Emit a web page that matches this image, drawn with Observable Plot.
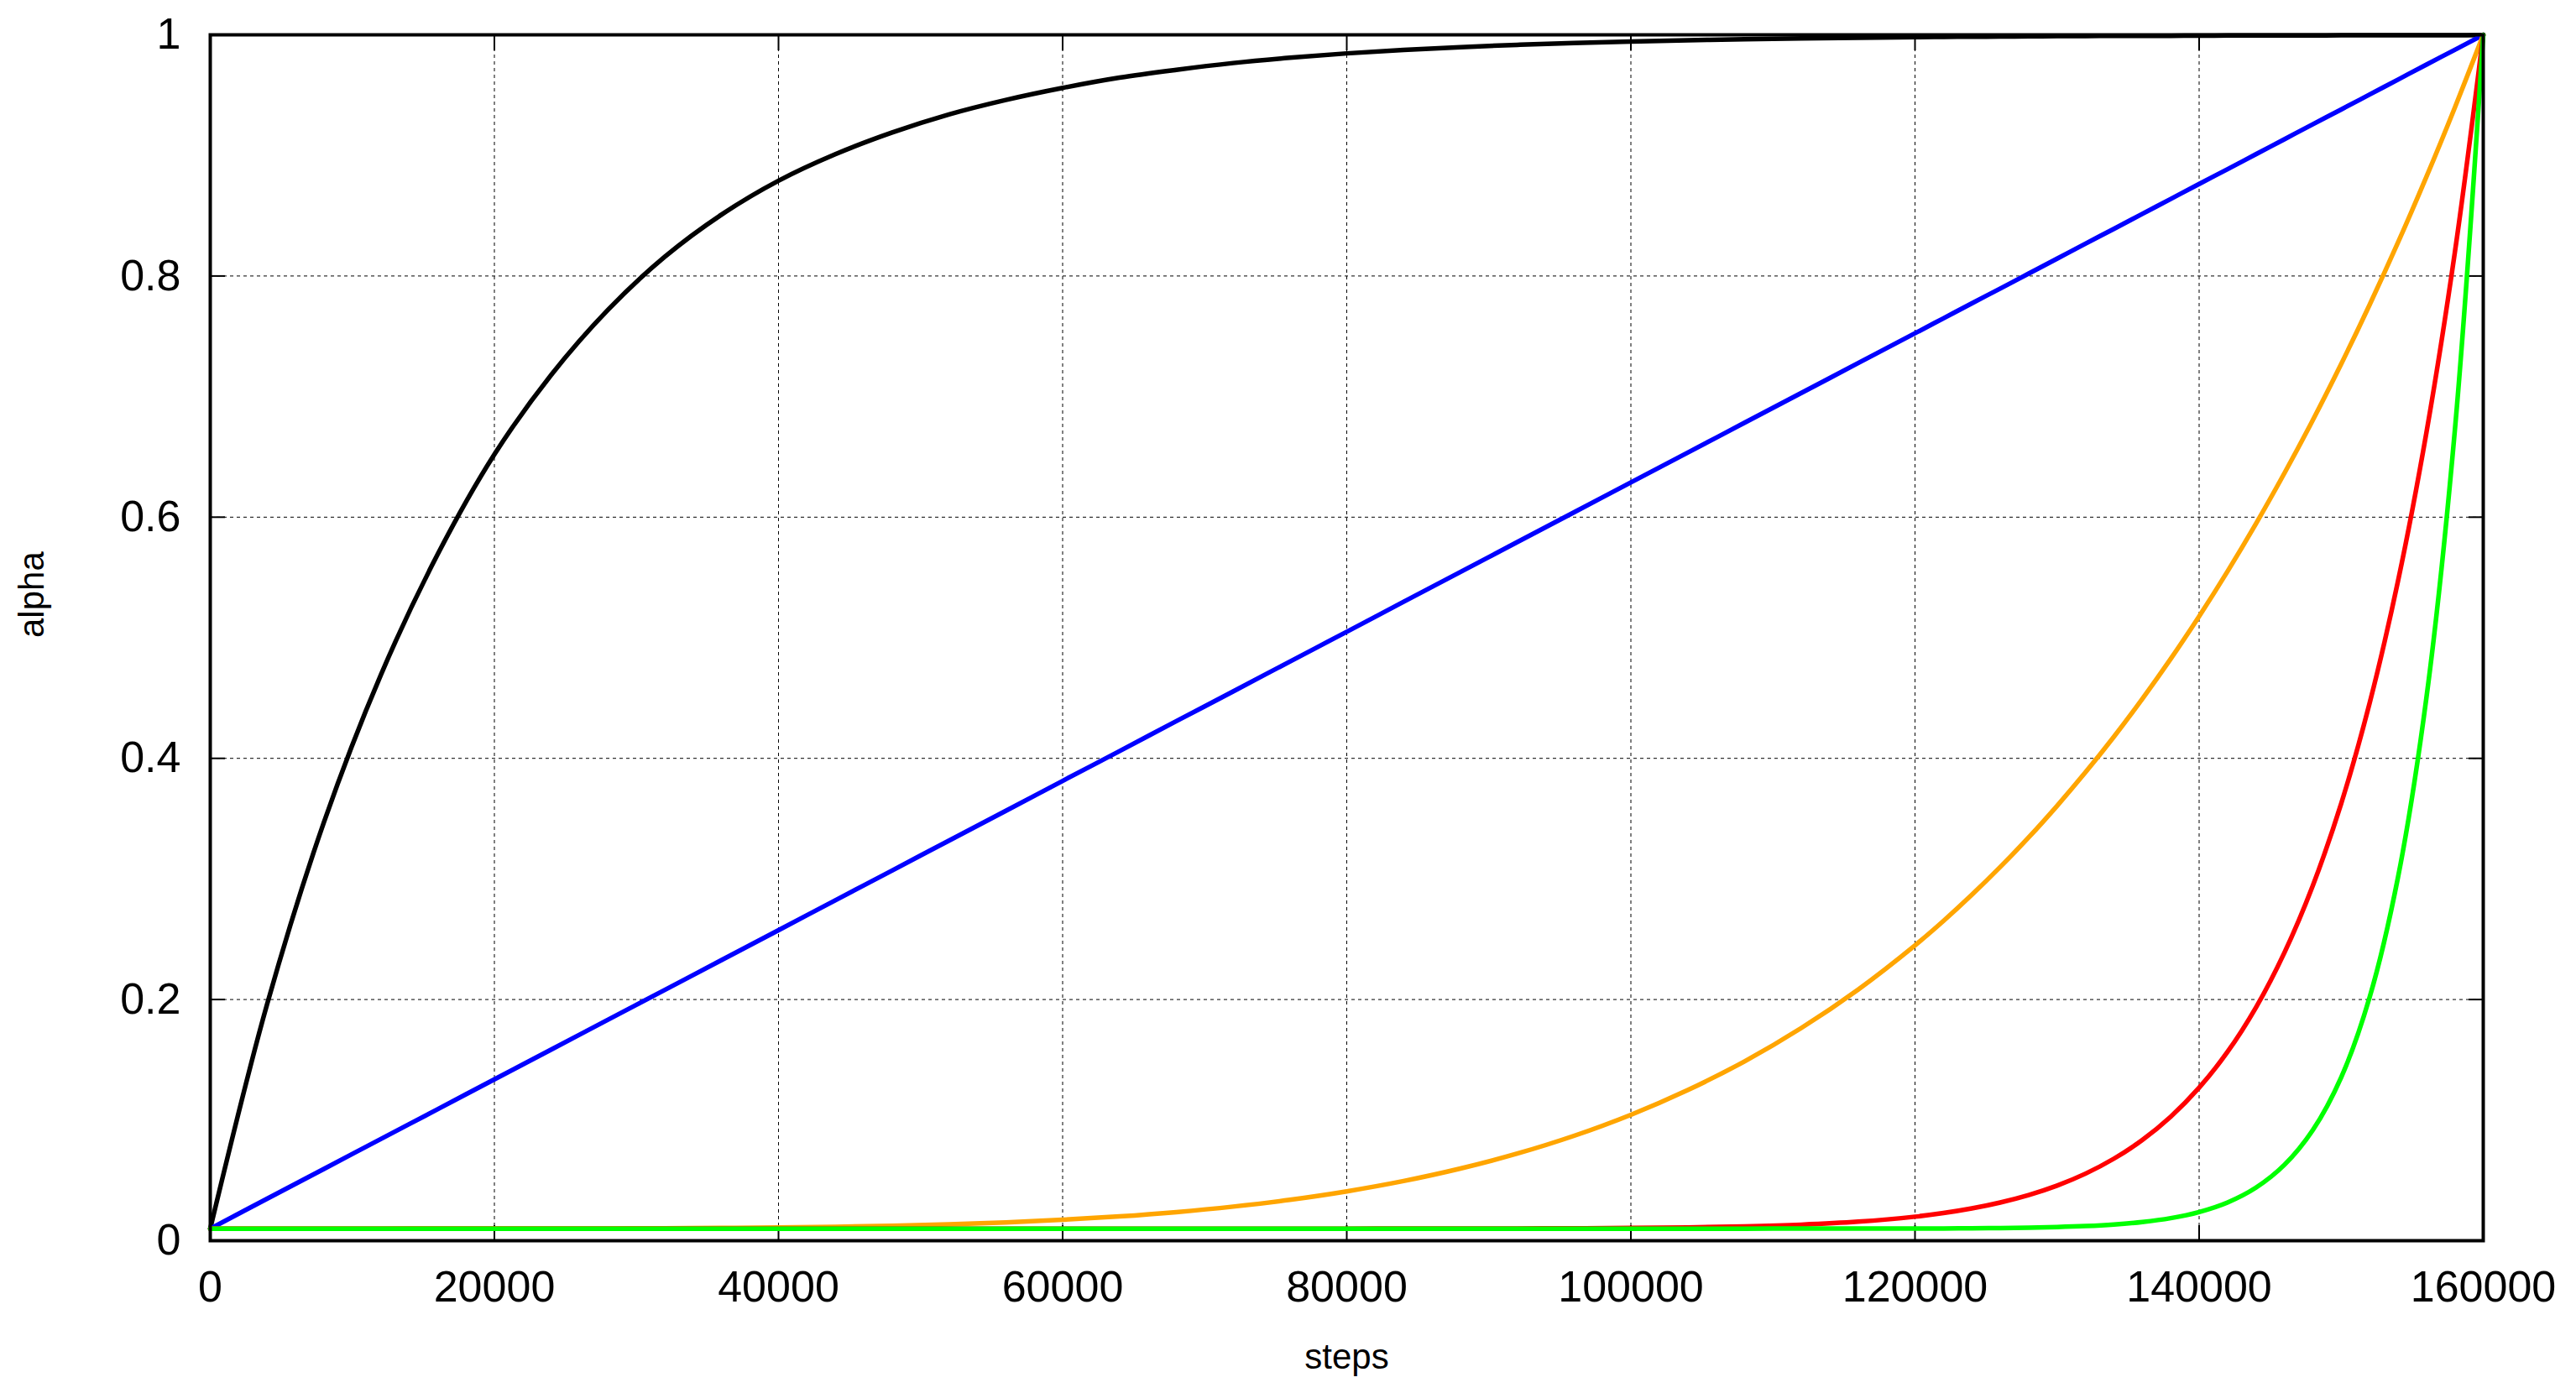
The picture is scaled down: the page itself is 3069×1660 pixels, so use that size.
<!DOCTYPE html>
<html>
<head>
<meta charset="utf-8">
<script src="https://cdn.jsdelivr.net/npm/d3@7"></script>
<script src="https://cdn.jsdelivr.net/npm/@observablehq/plot@0.6"></script>
<style>
  html, body { margin: 0; padding: 0; background: #fff; }
  #chart svg { display: block; }
</style>
</head>
<body>
<div id="chart"></div>
<script>
// ---- Data ----
const steps = [
  0, 4000, 8000, 12000, 16000, 20000, 24000, 28000, 32000, 36000,
  40000, 44000, 48000, 52000, 56000, 60000, 64000, 68000, 72000, 76000,
  80000, 84000, 88000, 92000, 96000, 100000, 104000, 108000, 112000, 116000,
  120000, 122000, 124000, 126000, 128000, 130000, 132000, 134000, 136000, 138000,
  140000, 142000, 144000, 146000, 148000, 150000, 152000, 154000, 156000, 158000,
  160000
];

const blackAlpha = [
  0.01, 0.196, 0.347, 0.469, 0.569, 0.652, 0.718, 0.772, 0.816, 0.851,
  0.879, 0.901, 0.919, 0.934, 0.946, 0.956, 0.9645, 0.971, 0.9766, 0.981,
  0.9846, 0.9875, 0.9898, 0.9917, 0.9933, 0.9945, 0.9955, 0.9964, 0.9971, 0.9976,
  0.998, 0.9983, 0.9984, 0.9986, 0.9987, 0.9989, 0.999, 0.9991, 0.9992, 0.9992,
  0.9993, 0.9994, 0.9994, 0.9995, 0.9995, 0.9996, 0.9996, 0.9996, 0.9997, 0.9997,
  0.9998
];

const blueAlpha = [
  0.01, 0.0348, 0.0595, 0.0843, 0.109, 0.1338, 0.1585, 0.1833, 0.208, 0.2328,
  0.2575, 0.2823, 0.307, 0.3318, 0.3565, 0.3813, 0.406, 0.4308, 0.4555, 0.4803,
  0.505, 0.5298, 0.5545, 0.5793, 0.604, 0.6288, 0.6535, 0.6783, 0.703, 0.7278,
  0.7525, 0.7649, 0.7773, 0.7896, 0.802, 0.8144, 0.8268, 0.8391, 0.8515, 0.8639,
  0.8763, 0.8886, 0.901, 0.9134, 0.9258, 0.9381, 0.9505, 0.9629, 0.9753, 0.9876,
  1.0
];

const orangeAlpha = [
  0.01, 0.01, 0.01, 0.01, 0.01001, 0.01003, 0.01008, 0.01016, 0.01032, 0.01057,
  0.01097, 0.01156, 0.01241, 0.01359, 0.0152, 0.01734, 0.02014, 0.02373, 0.02827, 0.03394,
  0.04094, 0.04948, 0.05983, 0.07222, 0.08698, 0.10442, 0.1249, 0.1487, 0.1764, 0.2083,
  0.2449, 0.2651, 0.2868, 0.3099, 0.3344, 0.3606, 0.3884, 0.4179, 0.4493, 0.4825,
  0.5178, 0.5551, 0.5946, 0.6364, 0.6804, 0.727, 0.7761, 0.8278, 0.8823, 0.9397,
  1.0
];

const redAlpha = [
  0.01, 0.01, 0.01, 0.01, 0.01, 0.01, 0.01, 0.01, 0.01, 0.01,
  0.01, 0.01, 0.01, 0.01, 0.01, 0.01, 0.01, 0.01, 0.01, 0.01,
  0.01, 0.01003, 0.01007, 0.01014, 0.01028, 0.01054, 0.0110, 0.01184, 0.01329, 0.01577,
  0.01992, 0.02292, 0.02677, 0.03167, 0.03787, 0.04571, 0.05559, 0.06802, 0.08351, 0.10285,
  0.1269, 0.1566, 0.1934, 0.2388, 0.2944, 0.3625, 0.4457, 0.5471, 0.6702, 0.8195,
  1.0
];

const greenAlpha = [
  0.01, 0.01, 0.01, 0.01, 0.01, 0.01, 0.01, 0.01, 0.01, 0.01,
  0.01, 0.01, 0.01, 0.01, 0.01, 0.01, 0.01, 0.01, 0.01, 0.01,
  0.01, 0.01, 0.01, 0.01, 0.01, 0.01, 0.01, 0.01, 0.01001, 0.01003,
  0.0101, 0.01017, 0.01028, 0.01047, 0.01078, 0.01129, 0.0121, 0.0134, 0.01546, 0.01871,
  0.02381, 0.03171, 0.044, 0.06288, 0.09171, 0.1355, 0.2018, 0.3014, 0.4503, 0.6719,
  1.0
];

const seriesNames = ["black", "blue", "orange", "red", "green"];
const seriesColors = ["#000000", "#0000ff", "#ffa500", "#ff0000", "#00ff00"];
const seriesValues = [blackAlpha, blueAlpha, orangeAlpha, redAlpha, greenAlpha];

const xTicks = [0, 20000, 40000, 60000, 80000, 100000, 120000, 140000, 160000];
const yTicks = [0, 0.2, 0.4, 0.6, 0.8, 1];
const xLabel = "steps";
const yLabel = "alpha";

// ---- Build tables ----
const tables = seriesValues.map(vals => steps.map((s, i) => ({step: s, alpha: vals[i]})));

const font = "'Liberation Sans', Arial, Helvetica, sans-serif";

const gridStyle = {stroke: "#000", strokeOpacity: 1, strokeWidth: 1, strokeDasharray: "4,4"};

const chart = Plot.plot({
  width: 3069,
  height: 1660,
  marginLeft: 250,
  marginRight: 111,
  marginTop: 41,
  marginBottom: 182,
  style: {fontFamily: font, fontSize: "52px", color: "#000", background: "#fff", overflow: "visible"},
  x: {domain: [0, 160000]},
  y: {domain: [0, 1]},
  marks: [
    Plot.gridX(xTicks.slice(1, -1), gridStyle),
    Plot.gridY(yTicks.slice(1, -1), gridStyle),
    // inward ticks (all four sides)
    Plot.axisX(xTicks, {anchor: "bottom", tickSize: -18, strokeWidth: 2, text: null, label: null}),
    Plot.axisX(xTicks, {anchor: "top", tickSize: -18, strokeWidth: 2, text: null, label: null}),
    Plot.axisY(yTicks, {anchor: "left", tickSize: -18, strokeWidth: 2, text: null, label: null}),
    Plot.axisY(yTicks, {anchor: "right", tickSize: -18, strokeWidth: 2, text: null, label: null}),
    // tick labels
    Plot.axisX(xTicks, {anchor: "bottom", tickSize: 0, tickPadding: 36, tickFormat: d => String(d), label: null, fontSize: 52}),
    Plot.axisY(yTicks, {anchor: "left", tickSize: 0, tickPadding: 35, tickFormat: d => String(d), label: null, fontSize: 52}),
    // curves
    ...tables.map((t, k) => Plot.line(t, {x: "step", y: "alpha", stroke: seriesColors[k], strokeWidth: 5.5, curve: "catmull-rom"})),
    Plot.frame({stroke: "#000", strokeWidth: 4}),
    // axis titles
    Plot.text([xLabel], {frameAnchor: "bottom", dy: 152, fontSize: 42, fill: "#000"}),
    Plot.text([yLabel], {frameAnchor: "left", dx: -212, rotate: -90, fontSize: 42, fill: "#000"})
  ]
});

document.getElementById("chart").appendChild(chart);
</script>
</body>
</html>
